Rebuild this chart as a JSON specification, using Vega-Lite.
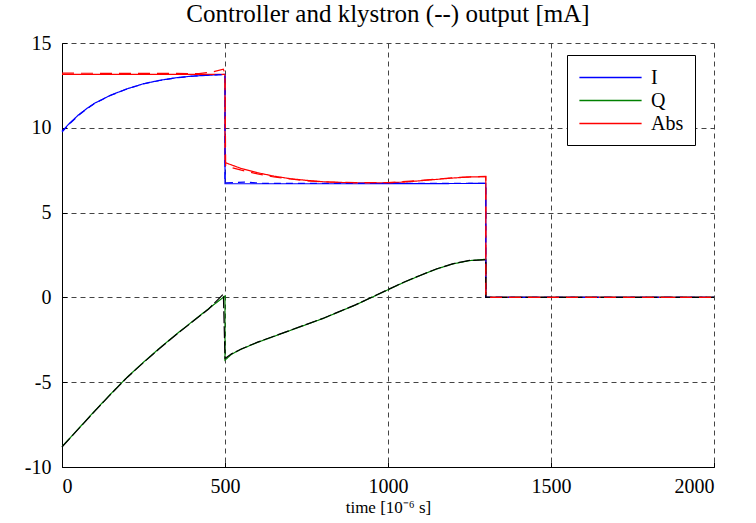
{
  "$schema": "https://vega.github.io/schema/vega-lite/v6.json",
  "width": 652,
  "height": 424,
  "autosize": {"type": "none"},
  "padding": {"left": 62, "top": 43, "right": 42, "bottom": 56},
  "background": "white",
  "title": {
    "text": "Controller and klystron (--) output [mA]",
    "font": "Liberation Serif",
    "fontSize": 25,
    "fontWeight": "normal",
    "color": "black",
    "anchor": "middle",
    "offset": 6
  },
  "config": {
    "view": {"stroke": null},
    "axis": {
      "labelFont": "Liberation Serif",
      "labelFontSize": 20,
      "labelColor": "black",
      "titleFont": "Liberation Serif",
      "titleFontSize": 17,
      "titleFontWeight": "normal",
      "titleColor": "black",
      "domainColor": "black",
      "domainWidth": 1,
      "tickColor": "black",
      "tickSize": -5,
      "grid": true,
      "gridColor": "#444444",
      "gridDash": [5, 4],
      "gridWidth": 1,
      "gridOpacity": 1
    }
  },
  "data": {
    "values": [
      {"k": "I", "src": "controller", "t": 0, "v": 9.8},
      {"k": "I", "src": "controller", "t": 25, "v": 10.3},
      {"k": "I", "src": "controller", "t": 50, "v": 10.75},
      {"k": "I", "src": "controller", "t": 75, "v": 11.12},
      {"k": "I", "src": "controller", "t": 100, "v": 11.45},
      {"k": "I", "src": "controller", "t": 150, "v": 11.93},
      {"k": "I", "src": "controller", "t": 200, "v": 12.3},
      {"k": "I", "src": "controller", "t": 250, "v": 12.6},
      {"k": "I", "src": "controller", "t": 300, "v": 12.8},
      {"k": "I", "src": "controller", "t": 350, "v": 12.95},
      {"k": "I", "src": "controller", "t": 400, "v": 13.05},
      {"k": "I", "src": "controller", "t": 450, "v": 13.1},
      {"k": "I", "src": "controller", "t": 500, "v": 13.15},
      {"k": "I", "src": "controller", "t": 500, "v": 6.7},
      {"k": "I", "src": "controller", "t": 900, "v": 6.7},
      {"k": "I", "src": "controller", "t": 1300, "v": 6.72},
      {"k": "I", "src": "controller", "t": 1300, "v": 0},
      {"k": "I", "src": "controller", "t": 2000, "v": 0},

      {"k": "Q", "src": "controller", "t": 0, "v": -8.8},
      {"k": "Q", "src": "controller", "t": 50, "v": -7.75},
      {"k": "Q", "src": "controller", "t": 100, "v": -6.7},
      {"k": "Q", "src": "controller", "t": 150, "v": -5.68},
      {"k": "Q", "src": "controller", "t": 200, "v": -4.7},
      {"k": "Q", "src": "controller", "t": 250, "v": -3.82},
      {"k": "Q", "src": "controller", "t": 300, "v": -2.98},
      {"k": "Q", "src": "controller", "t": 350, "v": -2.18},
      {"k": "Q", "src": "controller", "t": 400, "v": -1.42},
      {"k": "Q", "src": "controller", "t": 450, "v": -0.66},
      {"k": "Q", "src": "controller", "t": 500, "v": 0.08},
      {"k": "Q", "src": "controller", "t": 500, "v": -3.7},
      {"k": "Q", "src": "controller", "t": 520, "v": -3.35},
      {"k": "Q", "src": "controller", "t": 550, "v": -3.05},
      {"k": "Q", "src": "controller", "t": 600, "v": -2.65},
      {"k": "Q", "src": "controller", "t": 650, "v": -2.3},
      {"k": "Q", "src": "controller", "t": 700, "v": -1.95},
      {"k": "Q", "src": "controller", "t": 750, "v": -1.6},
      {"k": "Q", "src": "controller", "t": 800, "v": -1.25},
      {"k": "Q", "src": "controller", "t": 850, "v": -0.85},
      {"k": "Q", "src": "controller", "t": 900, "v": -0.45},
      {"k": "Q", "src": "controller", "t": 950, "v": 0.0},
      {"k": "Q", "src": "controller", "t": 1000, "v": 0.45},
      {"k": "Q", "src": "controller", "t": 1050, "v": 0.9},
      {"k": "Q", "src": "controller", "t": 1100, "v": 1.3},
      {"k": "Q", "src": "controller", "t": 1150, "v": 1.68},
      {"k": "Q", "src": "controller", "t": 1200, "v": 1.98},
      {"k": "Q", "src": "controller", "t": 1250, "v": 2.17},
      {"k": "Q", "src": "controller", "t": 1300, "v": 2.25},
      {"k": "Q", "src": "controller", "t": 1300, "v": 0},
      {"k": "Q", "src": "controller", "t": 2000, "v": 0},

      {"k": "Abs", "src": "controller", "t": 0, "v": 13.15},
      {"k": "Abs", "src": "controller", "t": 500, "v": 13.15},
      {"k": "Abs", "src": "controller", "t": 500, "v": 7.95},
      {"k": "Abs", "src": "controller", "t": 550, "v": 7.6},
      {"k": "Abs", "src": "controller", "t": 600, "v": 7.35},
      {"k": "Abs", "src": "controller", "t": 650, "v": 7.15},
      {"k": "Abs", "src": "controller", "t": 700, "v": 7.0},
      {"k": "Abs", "src": "controller", "t": 750, "v": 6.9},
      {"k": "Abs", "src": "controller", "t": 800, "v": 6.82},
      {"k": "Abs", "src": "controller", "t": 850, "v": 6.78},
      {"k": "Abs", "src": "controller", "t": 900, "v": 6.76},
      {"k": "Abs", "src": "controller", "t": 1000, "v": 6.76},
      {"k": "Abs", "src": "controller", "t": 1050, "v": 6.8},
      {"k": "Abs", "src": "controller", "t": 1100, "v": 6.88},
      {"k": "Abs", "src": "controller", "t": 1150, "v": 6.96},
      {"k": "Abs", "src": "controller", "t": 1200, "v": 7.04},
      {"k": "Abs", "src": "controller", "t": 1250, "v": 7.1},
      {"k": "Abs", "src": "controller", "t": 1300, "v": 7.12},
      {"k": "Abs", "src": "controller", "t": 1300, "v": 0},
      {"k": "Abs", "src": "controller", "t": 2000, "v": 0},

      {"k": "Ik", "src": "klystron", "t": 0, "v": 9.75},
      {"k": "Ik", "src": "klystron", "t": 25, "v": 10.27},
      {"k": "Ik", "src": "klystron", "t": 50, "v": 10.72},
      {"k": "Ik", "src": "klystron", "t": 75, "v": 11.1},
      {"k": "Ik", "src": "klystron", "t": 100, "v": 11.43},
      {"k": "Ik", "src": "klystron", "t": 150, "v": 11.92},
      {"k": "Ik", "src": "klystron", "t": 200, "v": 12.29},
      {"k": "Ik", "src": "klystron", "t": 250, "v": 12.59},
      {"k": "Ik", "src": "klystron", "t": 300, "v": 12.79},
      {"k": "Ik", "src": "klystron", "t": 350, "v": 12.95},
      {"k": "Ik", "src": "klystron", "t": 400, "v": 13.04},
      {"k": "Ik", "src": "klystron", "t": 450, "v": 13.1},
      {"k": "Ik", "src": "klystron", "t": 500, "v": 13.15},
      {"k": "Ik", "src": "klystron", "t": 500, "v": 6.75},
      {"k": "Ik", "src": "klystron", "t": 560, "v": 6.8},
      {"k": "Ik", "src": "klystron", "t": 620, "v": 6.72},
      {"k": "Ik", "src": "klystron", "t": 1300, "v": 6.72},
      {"k": "Ik", "src": "klystron", "t": 1300, "v": 0},
      {"k": "Ik", "src": "klystron", "t": 2000, "v": 0},

      {"k": "Qk", "src": "klystron", "t": 0, "v": -8.82},
      {"k": "Qk", "src": "klystron", "t": 50, "v": -7.77},
      {"k": "Qk", "src": "klystron", "t": 100, "v": -6.72},
      {"k": "Qk", "src": "klystron", "t": 150, "v": -5.7},
      {"k": "Qk", "src": "klystron", "t": 200, "v": -4.72},
      {"k": "Qk", "src": "klystron", "t": 250, "v": -3.84},
      {"k": "Qk", "src": "klystron", "t": 300, "v": -3.0},
      {"k": "Qk", "src": "klystron", "t": 350, "v": -2.2},
      {"k": "Qk", "src": "klystron", "t": 400, "v": -1.44},
      {"k": "Qk", "src": "klystron", "t": 450, "v": -0.68},
      {"k": "Qk", "src": "klystron", "t": 495, "v": 0.2},
      {"k": "Qk", "src": "klystron", "t": 500, "v": -3.6},
      {"k": "Qk", "src": "klystron", "t": 520, "v": -3.33},
      {"k": "Qk", "src": "klystron", "t": 550, "v": -3.04},
      {"k": "Qk", "src": "klystron", "t": 600, "v": -2.64},
      {"k": "Qk", "src": "klystron", "t": 650, "v": -2.29},
      {"k": "Qk", "src": "klystron", "t": 700, "v": -1.94},
      {"k": "Qk", "src": "klystron", "t": 750, "v": -1.59},
      {"k": "Qk", "src": "klystron", "t": 800, "v": -1.24},
      {"k": "Qk", "src": "klystron", "t": 850, "v": -0.84},
      {"k": "Qk", "src": "klystron", "t": 900, "v": -0.44},
      {"k": "Qk", "src": "klystron", "t": 950, "v": 0.01},
      {"k": "Qk", "src": "klystron", "t": 1000, "v": 0.46},
      {"k": "Qk", "src": "klystron", "t": 1050, "v": 0.91},
      {"k": "Qk", "src": "klystron", "t": 1100, "v": 1.31},
      {"k": "Qk", "src": "klystron", "t": 1150, "v": 1.69},
      {"k": "Qk", "src": "klystron", "t": 1200, "v": 1.99},
      {"k": "Qk", "src": "klystron", "t": 1250, "v": 2.18},
      {"k": "Qk", "src": "klystron", "t": 1300, "v": 2.22},
      {"k": "Qk", "src": "klystron", "t": 1300, "v": 0},
      {"k": "Qk", "src": "klystron", "t": 2000, "v": 0},

      {"k": "Absk", "src": "klystron", "t": 0, "v": 13.22},
      {"k": "Absk", "src": "klystron", "t": 420, "v": 13.2},
      {"k": "Absk", "src": "klystron", "t": 460, "v": 13.28},
      {"k": "Absk", "src": "klystron", "t": 495, "v": 13.45},
      {"k": "Absk", "src": "klystron", "t": 500, "v": 13.2},
      {"k": "Absk", "src": "klystron", "t": 502, "v": 7.75},
      {"k": "Absk", "src": "klystron", "t": 550, "v": 7.5},
      {"k": "Absk", "src": "klystron", "t": 600, "v": 7.28},
      {"k": "Absk", "src": "klystron", "t": 650, "v": 7.1},
      {"k": "Absk", "src": "klystron", "t": 700, "v": 6.98},
      {"k": "Absk", "src": "klystron", "t": 750, "v": 6.88},
      {"k": "Absk", "src": "klystron", "t": 800, "v": 6.81},
      {"k": "Absk", "src": "klystron", "t": 900, "v": 6.77},
      {"k": "Absk", "src": "klystron", "t": 1000, "v": 6.77},
      {"k": "Absk", "src": "klystron", "t": 1100, "v": 6.9},
      {"k": "Absk", "src": "klystron", "t": 1200, "v": 7.06},
      {"k": "Absk", "src": "klystron", "t": 1300, "v": 7.14},
      {"k": "Absk", "src": "klystron", "t": 1300, "v": 0},
      {"k": "Absk", "src": "klystron", "t": 2000, "v": 0}
    ]
  },
  "mark": {"type": "line", "strokeWidth": 1.2, "interpolate": "linear"},
  "encoding": {
    "x": {
      "field": "t",
      "type": "quantitative",
      "scale": {"domain": [0, 2000], "nice": false},
      "axis": {
        "values": [0, 500, 1000, 1500, 2000],
        "labelExpr": "'' + datum.value",
        "title": "time [10⁻⁶ s]",
        "labelPadding": 14,
        "titlePadding": 3
      }
    },
    "y": {
      "field": "v",
      "type": "quantitative",
      "scale": {"domain": [-10, 15], "nice": false, "zero": false},
      "axis": {
        "values": [-10, -5, 0, 5, 10, 15],
        "labelExpr": "'' + datum.value",
        "title": null,
        "labelPadding": 16
      }
    },
    "color": {
      "field": "k",
      "type": "nominal",
      "scale": {
        "domain": ["I", "Q", "Abs", "Ik", "Qk", "Absk"],
        "range": ["#0000ff", "#008000", "#ff0000", "#0000ff", "#000000", "#ff0000"]
      },
      "legend": {
        "values": ["I", "Q", "Abs"],
        "title": null,
        "orient": "none",
        "legendX": 505,
        "legendY": 12,
        "symbolType": "M-3,0H3",
        "symbolSize": 430,
        "symbolOffset": 21,
        "symbolStrokeWidth": 1.3,
        "labelFont": "Liberation Serif",
        "labelFontSize": 20,
        "labelColor": "black",
        "labelOffset": 29,
        "strokeColor": "black",
        "fillColor": "white",
        "padding": 11,
        "rowPadding": 1
      }
    },
    "strokeDash": {
      "field": "k",
      "type": "nominal",
      "scale": {
        "domain": ["I", "Q", "Abs", "Ik", "Qk", "Absk"],
        "range": [[1, 0], [1, 0], [1, 0], [7, 5], [12, 3], [12, 7]]
      },
      "legend": null
    },
    "order": {"value": null}
  }
}
